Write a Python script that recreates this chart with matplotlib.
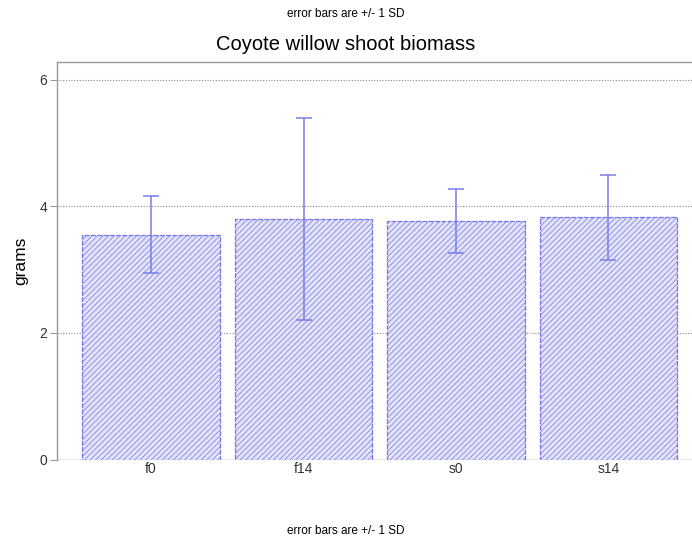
import matplotlib
matplotlib.use("Agg")
import matplotlib.pyplot as plt

plt.rcParams['font.family'] = ['Liberation Sans', 'DejaVu Sans']
plt.rcParams['hatch.linewidth'] = 0.5

groups = ['f0', 'f14', 's0', 's14']
means = [3.55, 3.80, 3.77, 3.83]
sds = [0.61, 1.59, 0.51, 0.67]
yticks = [0, 2, 4, 6]

fig = plt.figure(figsize=(6.92, 5.44), dpi=100)
ax = fig.add_axes([0.0824, 0.1553, 0.9176, 0.7307])

x = range(len(groups))
ax.bar(x, means, width=0.9, color='#e2e2f9', edgecolor='#7777e6',
       hatch='//////', linewidth=0.9, linestyle=(0, (4, 1)), zorder=2)
ax.errorbar(x, means, yerr=sds, fmt='none', ecolor='#7c7ce8',
            elinewidth=1.1, capsize=6, capthick=1.1, zorder=3)

ax.set_xlim(-0.617, 3.548)
ax.set_ylim(0, 6.28)
ax.set_yticks(yticks)
ax.set_xticks(list(x))
ax.set_xticklabels(groups)
ax.grid(axis='y', linestyle=(0, (1, 1.5)), color='#888888', linewidth=0.8, zorder=0)
ax.axhline(0, color='#999999', linewidth=1.0, zorder=1)

for s in ['right', 'bottom']:
    ax.spines[s].set_visible(False)
for s in ['left', 'top']:
    ax.spines[s].set_color('#999999')
    ax.spines[s].set_linewidth(1.0)

ax.tick_params(axis='y', length=5, pad=2, color='#999999', labelcolor='#333333', labelsize=10)
ax.tick_params(axis='x', length=0, pad=2, labelcolor='#333333', labelsize=10)
ax.set_ylabel('grams', fontsize=12.5, labelpad=8)

fig.text(0.5, 0.974, 'error bars are +/- 1 SD', ha='center', va='center', fontsize=8.5)
fig.text(0.5, 0.918, 'Coyote willow shoot biomass', ha='center', va='center', fontsize=14.5)
fig.text(0.5, 0.024, 'error bars are +/- 1 SD', ha='center', va='center', fontsize=8.5)

fig.savefig('out.png', dpi=100)
